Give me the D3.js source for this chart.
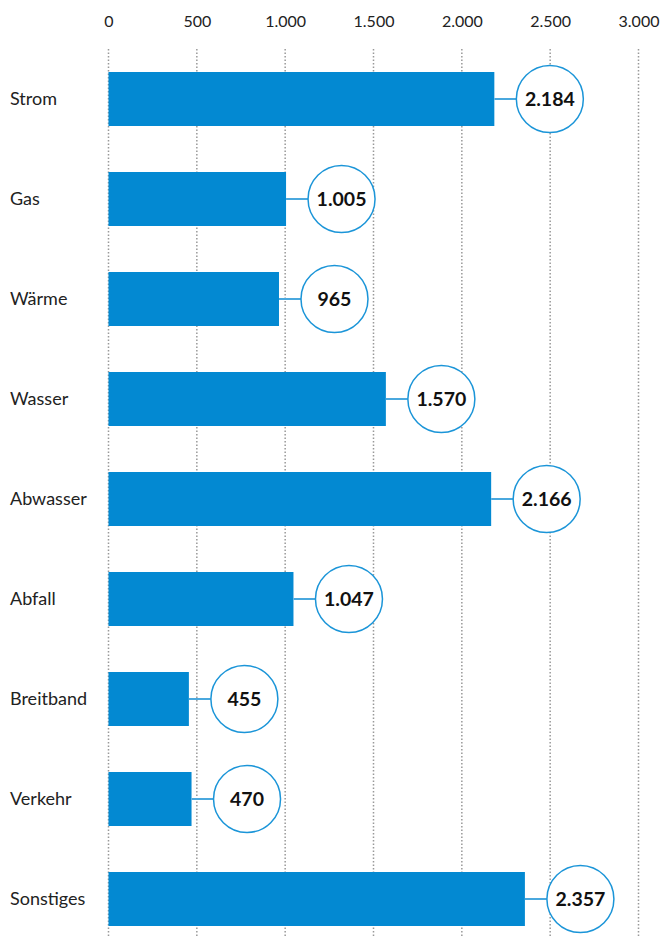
<!doctype html>
<html>
<head>
<meta charset="UTF-8">
<script src="https://d3js.org/d3.v7.min.js"></script>
<style>
body { margin: 0; background: #fff; }
svg text { font-family: Lato, "Open Sans", sans-serif; }
.tick text { fill: #222; font-size: 16px; }
.cat { fill: #222; font-size: 18px; }
.val { fill: #111; font-size: 19.5px; font-weight: bold; }
</style>
</head>
<body>
<script>
// Kategorien und Werte
var categories = ["Strom", "Gas", "Wärme", "Wasser", "Abwasser", "Abfall", "Breitband", "Verkehr", "Sonstiges"];
var values = [2184, 1005, 965, 1570, 2166, 1047, 455, 470, 2357];
var tickValues = [0, 500, 1000, 1500, 2000, 2500, 3000];

var w = 660, h = 938;
var fmt = d3.formatLocale({decimal: ",", thousands: ".", grouping: [3], currency: ["", "€"]}).format(",d");

var svg = d3.select("body").append("svg")
    .attr("width", w)
    .attr("height", h);

var x = d3.scaleLinear().domain([0, 3000]).range([108.5, 638.5]);
var y = d3.scaleBand().domain(categories).range([49, 949]).paddingInner(0.46).paddingOuter(0.23);

// gepunktete Gitterlinien
svg.append("g").selectAll("line")
    .data(tickValues)
    .enter().append("line")
    .attr("x1", function(d) { return x(d); })
    .attr("x2", function(d) { return x(d); })
    .attr("y1", 49)
    .attr("y2", h)
    .attr("stroke", "#999")
    .attr("stroke-width", 1.5)
    .attr("stroke-dasharray", "1.5,2");

// Achse oben
var axis = svg.append("g")
    .attr("transform", "translate(0,27)")
    .call(d3.axisTop(x).tickValues(tickValues).tickFormat(fmt).tickSize(0).tickPadding(0));
axis.select(".domain").remove();
axis.selectAll(".tick text").attr("font-family", null).attr("font-size", null);

var row = svg.append("g").selectAll("g")
    .data(categories)
    .enter().append("g");

row.append("text")
    .attr("class", "cat")
    .attr("x", 10)
    .attr("y", function(d) { return y(d) + y.bandwidth() / 2; })
    .attr("dy", "0.35em")
    .text(function(d) { return d; });

row.append("rect")
    .attr("x", x(0))
    .attr("y", function(d) { return y(d); })
    .attr("width", function(d, i) { return x(values[i]) - x(0); })
    .attr("height", y.bandwidth())
    .attr("fill", "#0389d2");

var r = 33.5, gap = 22;

row.append("line")
    .attr("x1", function(d, i) { return x(values[i]); })
    .attr("x2", function(d, i) { return x(values[i]) + gap; })
    .attr("y1", function(d) { return y(d) + y.bandwidth() / 2; })
    .attr("y2", function(d) { return y(d) + y.bandwidth() / 2; })
    .attr("stroke", "#4aa8de")
    .attr("stroke-width", 2);

row.append("circle")
    .attr("cx", function(d, i) { return x(values[i]) + gap + r; })
    .attr("cy", function(d) { return y(d) + y.bandwidth() / 2; })
    .attr("r", r)
    .attr("fill", "#fff")
    .attr("stroke", "#1b95d8")
    .attr("stroke-width", 1.5);

row.append("text")
    .attr("class", "val")
    .attr("x", function(d, i) { return x(values[i]) + gap + r; })
    .attr("y", function(d) { return y(d) + y.bandwidth() / 2; })
    .attr("dy", "0.36em")
    .attr("text-anchor", "middle")
    .text(function(d, i) { return fmt(values[i]); });
</script>
</body>
</html>
